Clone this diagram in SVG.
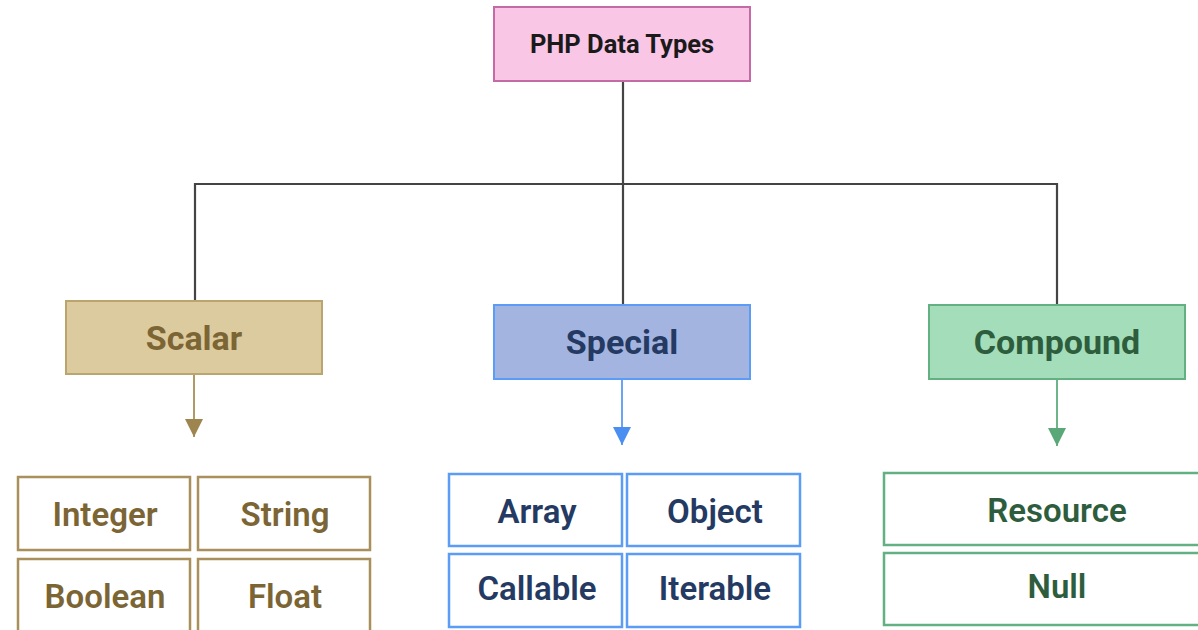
<svg xmlns="http://www.w3.org/2000/svg" width="1198" height="630" viewBox="0 0 1198 630">
<defs>
<style>
text{font-family:Roboto,"Liberation Sans",sans-serif;font-weight:bold;text-anchor:middle}
.root rect{fill:#F9C6E6;stroke:#C46AA6;stroke-width:2}
.root text{fill:#1A1A1A;font-size:25.5px}
.sc rect.h{fill:#DCCB9F;stroke:#BBA56F;stroke-width:2}
.sc text{fill:#7C6535}
.sp rect.h{fill:#A4B4E0;stroke:#5B9CF6;stroke-width:2}
.sp text{fill:#243A62}
.cp rect.h{fill:#A3DDBA;stroke:#63B183;stroke-width:2}
.cp text{fill:#2E5D3D}
.big{font-size:34px}
.small{font-size:33px;font-weight:600}
.sc rect.c{fill:#fff;stroke:#A88F5C;stroke-width:2.5}
.sp rect.c{fill:#fff;stroke:#5B9CF6;stroke-width:2.5}
.cp rect.c{fill:#fff;stroke:#63B183;stroke-width:2.5}
.tree{fill:none;stroke:#444;stroke-width:2.2}
</style>
<marker id="aSc" viewBox="0 0 10 10" refX="10" refY="5" markerWidth="18" markerHeight="18" markerUnits="userSpaceOnUse" orient="auto"><path d="M0,0L10,5L0,10z" fill="#9E8550"/></marker>
<marker id="aSp" viewBox="0 0 10 10" refX="10" refY="5" markerWidth="18" markerHeight="18" markerUnits="userSpaceOnUse" orient="auto"><path d="M0,0L10,5L0,10z" fill="#4A8EF2"/></marker>
<marker id="aCp" viewBox="0 0 10 10" refX="10" refY="5" markerWidth="18" markerHeight="18" markerUnits="userSpaceOnUse" orient="auto"><path d="M0,0L10,5L0,10z" fill="#5AA878"/></marker>
</defs>
<g id="connectors">
<path class="tree" d="M623,81V305"/>
<path class="tree" d="M195,301V184H1057V305"/>
<path d="M194,374V437" stroke="#B09A66" stroke-width="2" marker-end="url(#aSc)"/>
<path d="M622,379V445" stroke="#6BA4F5" stroke-width="2" marker-end="url(#aSp)"/>
<path d="M1057,379V446" stroke="#6DB588" stroke-width="2" marker-end="url(#aCp)"/>
</g>
<g id="php-data-types" class="root">
<rect x="494" y="7" width="256" height="74"/>
<text x="622" y="53">PHP Data Types</text>
</g>
<g id="scalar" class="sc">
<rect class="h" x="66" y="301" width="256" height="73"/>
<text class="big" x="194" y="350">Scalar</text>
</g>
<g id="special" class="sp">
<rect class="h" x="494" y="305" width="256" height="74"/>
<text class="big" x="622" y="354">Special</text>
</g>
<g id="compound" class="cp">
<rect class="h" x="929" y="305" width="256" height="74"/>
<text class="big" x="1057" y="354">Compound</text>
</g>
<g id="integer" class="sc"><rect class="c" x="18" y="477" width="172" height="73"/><text class="small" x="105" y="526">Integer</text></g>
<g id="string" class="sc"><rect class="c" x="198" y="477" width="172" height="73"/><text class="small" x="285" y="526">String</text></g>
<g id="boolean" class="sc"><rect class="c" x="18" y="559" width="172" height="80"/><text class="small" x="105" y="608">Boolean</text></g>
<g id="float" class="sc"><rect class="c" x="198" y="559" width="172" height="80"/><text class="small" x="285" y="608">Float</text></g>
<g id="array" class="sp"><rect class="c" x="449" y="474" width="173" height="72"/><text class="small" x="537" y="523">Array</text></g>
<g id="object" class="sp"><rect class="c" x="627" y="474" width="173" height="72"/><text class="small" x="715" y="523">Object</text></g>
<g id="callable" class="sp"><rect class="c" x="449" y="554" width="173" height="73"/><text class="small" x="537" y="600">Callable</text></g>
<g id="iterable" class="sp"><rect class="c" x="627" y="554" width="173" height="73"/><text class="small" x="715" y="600">Iterable</text></g>
<g id="resource" class="cp"><rect class="c" x="884" y="473" width="320" height="72"/><text class="small" x="1057" y="522">Resource</text></g>
<g id="null" class="cp"><rect class="c" x="884" y="553" width="320" height="72"/><text class="small" x="1057" y="598">Null</text></g>
</svg>
